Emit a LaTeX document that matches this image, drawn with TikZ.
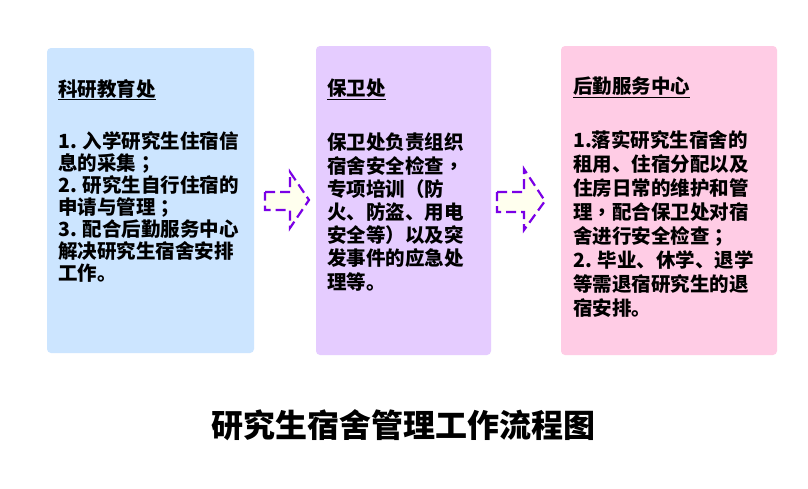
\documentclass[tikz,border=0pt]{standalone}
\usepackage{fontspec}
\setmainfont{Noto Sans CJK SC}
\newfontfamily\tcfont{Noto Sans CJK TC}
\newcommand\cpunct[1]{{\tcfont\bfseries #1}}
\begin{document}
\begin{tikzpicture}[x=1pt,y=-1pt,
  panel/.style={rounded corners=4pt, draw=none},
  bodytxt/.style={anchor=north west, align=left, inner sep=0pt, font=\fontsize{19.5}{22}\selectfont\bfseries},
  headtxt/.style={anchor=north west, inner sep=0pt, font=\fontsize{19.5}{22}\selectfont\bfseries},
  flowarrow/.style={draw=arrowpurple, fill=arrowfill, line width=2.2pt, dash pattern=on 10pt off 5pt, line join=miter}
]
\definecolor{boxblue}{HTML}{CCE5FF}
\definecolor{boxlilac}{HTML}{E5CCFF}
\definecolor{boxpink}{HTML}{FFCCE5}
\definecolor{arrowpurple}{HTML}{7A00E6}
\definecolor{arrowfill}{HTML}{FFFFEE}
\useasboundingbox (0,0) rectangle (808,488);
\fill[white] (0,0) rectangle (808,488);

% panels
\fill[panel, boxblue] (47,48) rectangle (254,353);
\fill[panel, boxlilac] (316,46) rectangle (491,355);
\fill[panel, boxpink] (561,46) rectangle (777,355);

% headings
\node[headtxt] (h1) at (58,79) {\underline{科研教育处}};
\node[headtxt] (h2) at (327,79) {\underline{保卫处}};
\node[headtxt] (h3) at (573,77) {\underline{后勤服务中心}};

% bodies
\node[bodytxt, font=\fontsize{19.5}{22}\selectfont\bfseries] (b1) at (58,131) {1. 入学研究生住宿信\\息的采集\cpunct{；}\\2. 研究生自行住宿的\\申请与管理\cpunct{；}\\3. 配合后勤服务中心\\解决研究生宿舍安排\\工作。};
\node[bodytxt, font=\fontsize{19.5}{23.2}\selectfont\bfseries] (b2) at (327,133) {保卫处负责组织\\宿舍安全检查\cpunct{，}\\专项培训（防\\火、防盗、用电\\安全等）以及突\\发事件的应急处\\理等。};
\node[bodytxt, font=\fontsize{19.5}{24.1}\selectfont\bfseries] (b3) at (573,130) {1.落实研究生宿舍的\\租用、住宿分配以及\\住房日常的维护和管\\理\cpunct{，}配合保卫处对宿\\舍进行安全检查\cpunct{；}\\2. 毕业、休学、退学\\等需退宿研究生的退\\宿安排。};

% arrows
\draw[flowarrow] (265,192) -- (290,192) -- (290,172) -- (309,200) -- (290,228) -- (290,210) -- (265,210) -- cycle;
\draw[flowarrow] (497,192) -- (524,192) -- (524,169) -- (545,201) -- (524,230) -- (524,212) -- (497,212) -- cycle;

% title
\node[inner sep=0pt, font=\fontsize{32}{36}\selectfont\bfseries] (title) at (403,425) {研究生宿舍管理工作流程图};
\end{tikzpicture}
\end{document}
